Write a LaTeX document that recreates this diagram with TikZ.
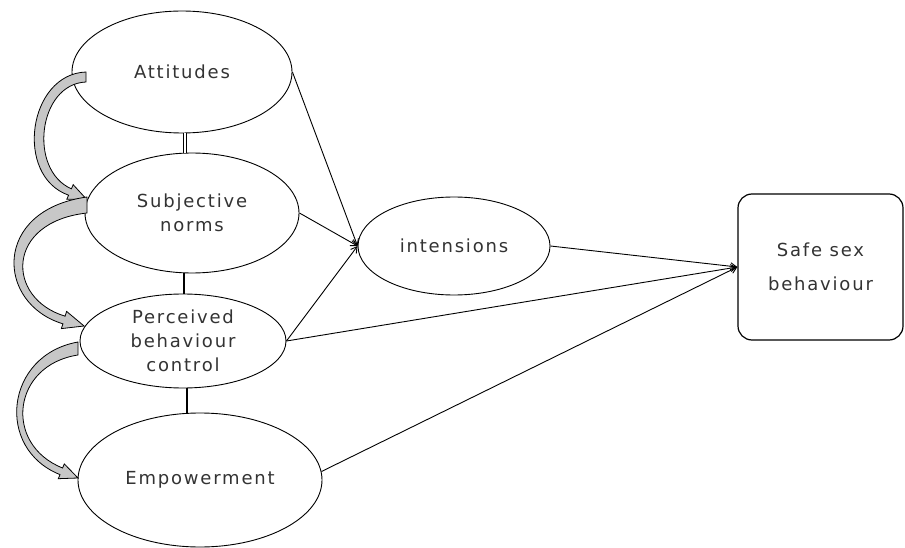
\documentclass[tikz,border=0pt]{standalone}
\usepackage{fontspec}
\newfontfamily\labfont[LetterSpace=10]{DejaVu Sans}
\usetikzlibrary{shapes.geometric,arrows.meta}
\begin{document}
\begin{tikzpicture}[x=1pt,y=-1pt,
  lab/.style={font=\labfont\fontsize{18}{24}\selectfont,text=black!80,align=center},
  el/.style={ellipse,draw,line width=0.9pt,fill=white,inner sep=0pt,lab},
  box/.style={rectangle,rounded corners=14pt,draw,line width=1.2pt,fill=white,inner sep=0pt,lab},
  conn/.style={line width=0.9pt,-{Straight Barb[length=6pt,width=7pt]}},
  bandarrow/.style={draw=black,line width=0.8pt,fill=black!22,line join=miter},
  dbl/.style={double=white,double distance=2pt,line width=0.8pt},
  thickl/.style={line width=2.6pt}]
\useasboundingbox (0,0) rectangle (905,548);

\node[el,minimum width=220pt,minimum height=122pt] (att) at (182,72) {Attitudes};
\node[el,minimum width=214pt,minimum height=120pt] (sub) at (192,213) {Subjective\\norms};
\node[el,minimum width=206pt,minimum height=94pt] (per) at (183,341) {Perceived\\behaviour\\control};
\node[el,minimum width=244pt,minimum height=134pt] (emp) at (200,480) {Empowerment};
\node[el,minimum width=192pt,minimum height=98pt] (int) at (454,246) {intensions};
\node[box,minimum width=165pt,minimum height=146pt] (safe) at (820.5,267) {Safe sex\\[10pt]behaviour};

% links between the ellipses
\draw[dbl] (att.south) ++(3,0) coordinate (a1) -- (a1 |- sub.north);
\draw[thickl] ([xshift=-8pt]sub.south) coordinate (s1) -- (s1 |- per.north);
\draw[thickl] ([xshift=4pt]per.south) coordinate (p1) -- (p1 |- emp.north);

% arrows
\draw[conn] (att.east) -- (int.west);
\draw[conn] (sub.east) -- (int.west);
\draw[conn] (per.east) -- (int.west);
\draw[conn] (int.east) -- (safe.west);
\draw[conn] (per.east) -- (safe.west);
\draw[conn] (emp.4) -- (safe.west);

% curved block arrows
\path[bandarrow] (86,72) .. controls (28,74) and (14,176) .. (68.6,195.2)
  -- (66.8,199.3) -- (86.5,199.2) -- (73.2,184.7) -- (71.4,188.8)
  .. controls (28,170) and (38,84) .. (86,82) -- cycle;
\path[bandarrow] (87,197) .. controls (-8,210) and (-4.1,303.7) .. (62.9,323.8)
  -- (61.4,328.6) -- (84.1,326) -- (66.6,311.4) -- (65.1,316.2)
  .. controls (5.8,298.4) and (5,222) .. (87,213) -- cycle;
\path[bandarrow] (78,342) .. controls (5,355) and (-5.1,448.7) .. (60.0,474.6)
  -- (58.3,478.7) -- (78,478) -- (64.3,463.9) -- (62.6,468.0)
  .. controls (3.1,444.3) and (12,365) .. (78,355) -- cycle;
\end{tikzpicture}
\end{document}
